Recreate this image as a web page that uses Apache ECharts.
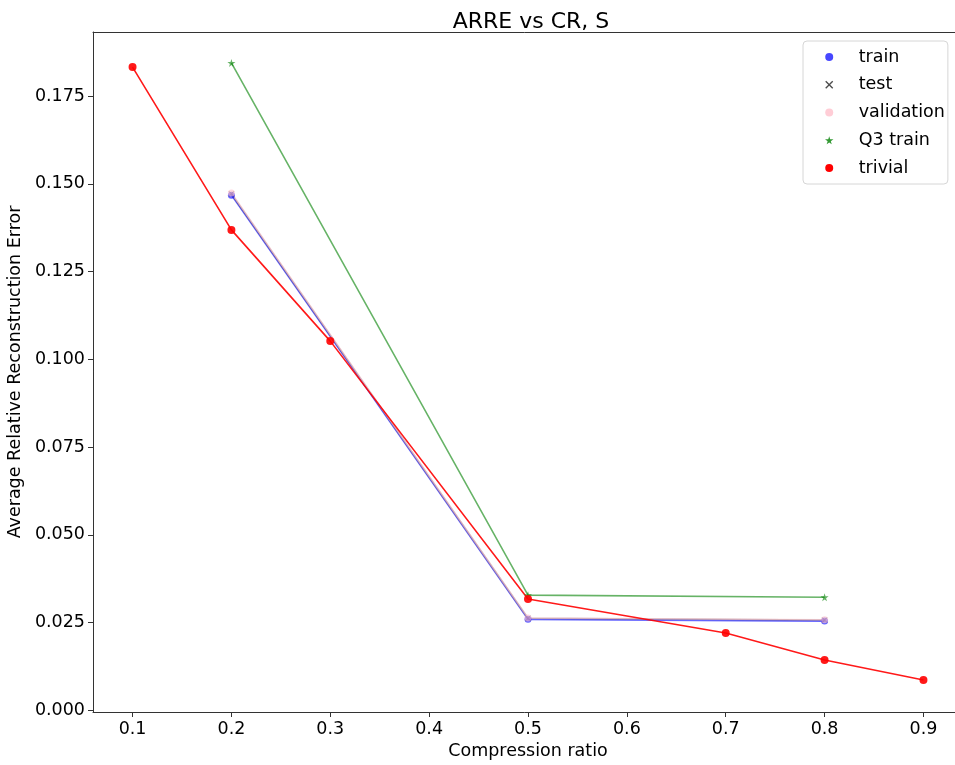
<!DOCTYPE html>
<html>
<head>
<meta charset="utf-8">
<script src="https://cdn.jsdelivr.net/npm/echarts@6/dist/echarts.min.js"></script>
<style>html,body{margin:0;padding:0;background:#fff;}#c{width:955px;height:765px;}</style>
</head>
<body>
<div id="c"></div>
<script>
const xTicks = [0.1, 0.2, 0.3, 0.4, 0.5, 0.6, 0.7, 0.8, 0.9];
const yTicks = [0, 0.025, 0.05, 0.075, 0.1, 0.125, 0.15, 0.175];
const ratiosMain = [0.2, 0.5, 0.8];
const trainVals = [0.1468, 0.0259, 0.0254];
const testVals = [0.1472, 0.0262, 0.0257];
const validationVals = [0.1474, 0.0263, 0.0258];
const q3Vals = [0.1845, 0.0328, 0.0322];
const ratiosTrivial = [0.1, 0.2, 0.3, 0.5, 0.7, 0.8, 0.9];
const trivialVals = [0.1833, 0.1369, 0.1052, 0.0317, 0.0220, 0.0143, 0.0086];

const FONT = 'DejaVu Sans';
const FS = 17.5;
const xPath = 'path://M0,1.2 L1.2,0 L5,3.8 L8.8,0 L10,1.2 L6.2,5 L10,8.8 L8.8,10 L5,6.2 L1.2,10 L0,8.8 L3.8,5 Z';
const starPath = 'path://M50,0 L61,35 L98,35 L68,57 L79,91 L50,70 L21,91 L32,57 L2,35 L39,35 Z';

function pairs(xs, ys) { return xs.map((x, i) => [x, ys[i]]); }

function mk(name, xs, ys, color, opacity, symbol, size) {
  return {
    name, type: 'line', data: pairs(xs, ys),
    symbol, symbolSize: size,
    lineStyle: { color, width: 1.6, opacity },
    itemStyle: { color, opacity },
    emphasis: { disabled: true },
    animation: false, z: 2
  };
}

const chart = echarts.init(document.getElementById('c'), null, { renderer: 'canvas' });
chart.setOption({
  animation: false,
  backgroundColor: '#fff',
  title: {
    text: 'ARRE vs CR, S', left: 526, top: 6, textAlign: 'center',
    textStyle: { fontFamily: FONT, fontSize: 22, fontWeight: 'normal', color: '#000' }
  },
  grid: { left: 93, top: 32, width: 870, height: 680, outerBoundsMode: 'none', containLabel: false, show: false },
  xAxis: [{
    type: 'value', min: 0.06, max: 0.94,
    name: 'Compression ratio', nameLocation: 'middle', nameGap: 28,
    nameTextStyle: { fontFamily: FONT, fontSize: FS, color: '#000' },
    axisLine: { show: true, onZero: false, lineStyle: { color: '#333' } },
    axisTick: { show: true, inside: false, length: 5, customValues: xTicks, lineStyle: { color: '#333' } },
    axisLabel: { customValues: xTicks, formatter: v => v.toFixed(1), fontFamily: FONT, fontSize: FS, color: '#000', margin: 8 },
    splitLine: { show: false }
  }, {
    type: 'value', min: 0.06, max: 0.94, position: 'top',
    axisLine: { show: true, onZero: false, lineStyle: { color: '#333' } },
    axisTick: { show: false }, axisLabel: { show: false }, splitLine: { show: false }
  }],
  yAxis: {
    type: 'value', min: -0.0005, max: 0.1933,
    name: 'Average Relative Reconstruction Error', nameLocation: 'middle', nameGap: 56,
    nameTextStyle: { fontFamily: FONT, fontSize: FS, color: '#000' },
    axisLine: { show: true, onZero: false, lineStyle: { color: '#333' } },
    axisTick: { show: true, inside: false, length: 5, customValues: yTicks, lineStyle: { color: '#333' } },
    axisLabel: { customValues: yTicks, formatter: v => v.toFixed(3), fontFamily: FONT, fontSize: FS, color: '#000', margin: 8 },
    splitLine: { show: false }
  },
  legend: {
    orient: 'vertical', left: 803, top: 41,
    padding: [6, 3, 6, 22],
    itemWidth: 49, itemHeight: 8, itemGap: 7.75,
    backgroundColor: 'rgba(255,255,255,0.85)', borderColor: '#d6d6d6', borderWidth: 1, borderRadius: 4,
    textStyle: { fontFamily: FONT, fontSize: FS, color: '#000', lineHeight: 20 },
    selectedMode: false,
    data: [
      { name: 'train', icon: 'circle', itemStyle: { color: '#4747ff', opacity: 1 } },
      { name: 'test', icon: xPath, itemStyle: { color: '#4d4d4d', opacity: 1 } },
      { name: 'validation', icon: 'circle', itemStyle: { color: '#ffcdd6', opacity: 1 } },
      { name: 'Q3 train', icon: starPath, itemStyle: { color: '#339933', opacity: 1 } },
      { name: 'trivial', icon: 'circle', itemStyle: { color: '#ff0000', opacity: 1 } }
    ]
  },
  series: [
    mk('train', ratiosMain, trainVals, '#0000ff', 0.6, 'circle', 7),
    mk('test', ratiosMain, testVals, '#000000', 0.35, xPath, 6),
    mk('validation', ratiosMain, validationVals, '#ffc0cb', 0.6, 'circle', 7),
    mk('Q3 train', ratiosMain, q3Vals, '#008000', 0.6, starPath, 8),
    mk('trivial', ratiosTrivial, trivialVals, '#ff0000', 0.9, 'circle', 8)
  ]
});
</script>
</body>
</html>
